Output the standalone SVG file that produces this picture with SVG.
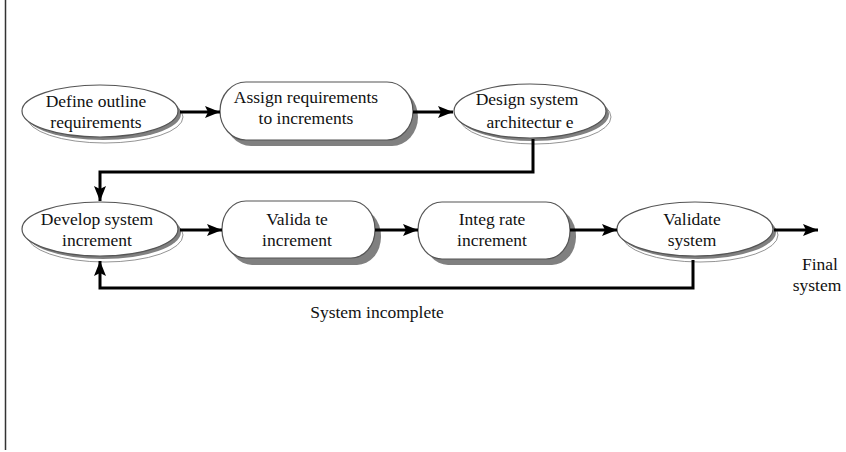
<svg xmlns="http://www.w3.org/2000/svg" width="846" height="452" viewBox="0 0 846 452">
  <style>
    .lbl { font-family: "Liberation Serif", "Times New Roman", serif; font-size: 17.5px; fill: #111; text-anchor: middle; }
    .face { fill: #fff; stroke: #555; stroke-width: 1.2; }
    .shade { fill: #808080; stroke: none; }
    .rim { fill: #fff; stroke: #888; stroke-width: 0.9; }
    .wire { fill: none; stroke: #000; stroke-width: 3; }
  </style>
  <defs>
    <marker id="head" markerUnits="userSpaceOnUse" markerWidth="18" markerHeight="14" refX="15" refY="6" orient="auto">
      <path d="M0,0 L15,6 L0,12 L3,6 z" fill="#000"/>
    </marker>
  </defs>

  <rect width="846" height="452" fill="#fff"/>
  <line x1="5.5" y1="0" x2="5.5" y2="450" stroke="#333" stroke-width="1.5"/>

  <!-- process steps -->
  <g id="define-outline">
    <ellipse class="rim" cx="105" cy="117" rx="78" ry="26"/>
    <ellipse class="shade" cx="103" cy="114" rx="78" ry="26"/>
    <ellipse class="face" cx="100" cy="111" rx="78" ry="26"/>
    <text class="lbl" x="96" y="107">Define outline</text>
    <text class="lbl" x="96" y="128">requirements</text>
  </g>

  <g id="assign-requirements">
    <rect class="shade" x="225" y="88" width="193" height="58" rx="26" ry="29"/>
    <rect class="face" x="220" y="82" width="193" height="58" rx="26" ry="29"/>
    <text class="lbl" x="306" y="103">Assign requirements</text>
    <text class="lbl" x="306" y="124">to increments</text>
  </g>

  <g id="design-architecture">
    <ellipse class="rim" cx="535" cy="117" rx="76" ry="27"/>
    <ellipse class="shade" cx="533" cy="114" rx="76" ry="27"/>
    <ellipse class="face" cx="530" cy="111" rx="76" ry="27"/>
    <text class="lbl" x="527" y="105">Design system</text>
    <text class="lbl" x="530" y="128">architectur e</text>
  </g>

  <g id="develop-increment">
    <ellipse class="rim" cx="105" cy="235" rx="78" ry="27"/>
    <ellipse class="shade" cx="103" cy="232" rx="78" ry="27"/>
    <ellipse class="face" cx="100" cy="229" rx="78" ry="27"/>
    <text class="lbl" x="97" y="225">Develop system</text>
    <text class="lbl" x="97" y="246">increment</text>
  </g>

  <g id="validate-increment">
    <rect class="shade" x="228" y="208" width="153" height="57" rx="24" ry="28"/>
    <rect class="face" x="222" y="201" width="153" height="57" rx="24" ry="28"/>
    <text class="lbl" x="297" y="225">Valida te</text>
    <text class="lbl" x="297" y="246">increment</text>
  </g>

  <g id="integrate-increment">
    <rect class="shade" x="424" y="208" width="152" height="57" rx="24" ry="28"/>
    <rect class="face" x="418" y="202" width="152" height="57" rx="24" ry="28"/>
    <text class="lbl" x="492" y="225">Integ rate</text>
    <text class="lbl" x="492" y="246">increment</text>
  </g>

  <g id="validate-system">
    <ellipse class="rim" cx="700" cy="235" rx="78" ry="27"/>
    <ellipse class="shade" cx="698" cy="232" rx="78" ry="27"/>
    <ellipse class="face" cx="695" cy="229" rx="78" ry="27"/>
    <text class="lbl" x="692" y="225">Validate</text>
    <text class="lbl" x="692" y="246">system</text>
  </g>

  <!-- flow lines -->
  <g id="connectors">
    <line class="wire" x1="180" y1="112" x2="220" y2="112" marker-end="url(#head)"/>
    <line class="wire" x1="413" y1="112" x2="453" y2="112" marker-end="url(#head)"/>
    <path class="wire" d="M533,139 V172 H100 V201" marker-end="url(#head)"/>
    <line class="wire" x1="180" y1="230" x2="222" y2="230" marker-end="url(#head)"/>
    <line class="wire" x1="375" y1="230" x2="418" y2="230" marker-end="url(#head)"/>
    <line class="wire" x1="570" y1="230" x2="617" y2="230" marker-end="url(#head)"/>
    <line class="wire" x1="774" y1="230" x2="818" y2="230" marker-end="url(#head)"/>
    <path class="wire" d="M693,260 V288 H100 V261" marker-end="url(#head)"/>
  </g>

  <text class="lbl" x="377" y="318">System incomplete</text>
  <text class="lbl" x="820" y="270">Final</text>
  <text class="lbl" x="817" y="291">system</text>
</svg>
